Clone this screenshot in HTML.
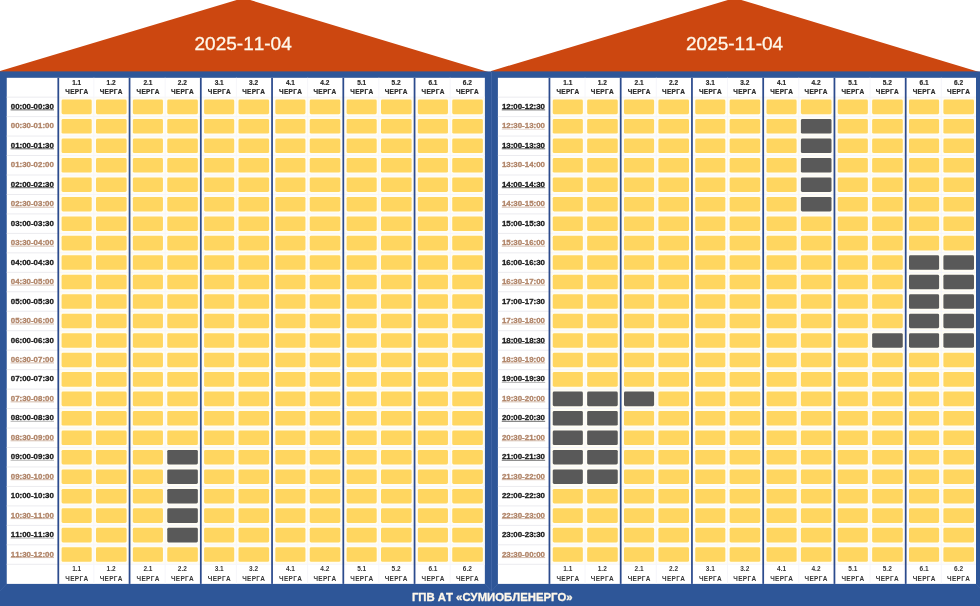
<!DOCTYPE html>
<html lang="uk">
<head>
<meta charset="utf-8">
<title>ГПВ АТ «СУМИОБЛЕНЕРГО»</title>
<style>
html,body{margin:0;padding:0;background:#fff;}
body{width:980px;height:606px;overflow:hidden;position:relative;font-family:"Liberation Sans",sans-serif;font-kerning:none;}
#g{position:absolute;left:0;top:0;width:980px;height:606px;display:block;}
#tx{position:absolute;left:0;top:0;width:980px;height:606px;will-change:transform;}
.t{position:absolute;white-space:nowrap;font-weight:bold;font-size:7.9px;line-height:10px;height:10px;letter-spacing:0;-webkit-text-stroke:0.3px currentColor;color:#1a1a1a;}
.t.o{color:#B08468;}
.h{position:absolute;white-space:nowrap;-webkit-text-stroke:0.2px currentColor;font-weight:bold;font-size:6.5px;line-height:9.4px;text-align:center;width:40px;color:#2b2b2b;}
.h.b{color:#383838;-webkit-text-stroke:0;}
.h i{display:block;font-style:normal;letter-spacing:0.3px;text-indent:0.3px;height:9.4px;line-height:9.4px;}
.h b{display:block;font-size:6.5px;height:9.4px;line-height:9.4px;position:relative;top:0.2px;}
.d{position:absolute;white-space:nowrap;-webkit-text-stroke:0.3px currentColor;font-size:19px;line-height:22px;height:22px;width:140px;text-align:center;color:#FFF8EA;}
.f{position:absolute;white-space:nowrap;-webkit-text-stroke:0.3px currentColor;font-weight:bold;font-size:11.35px;line-height:14px;height:14px;width:300px;text-align:center;color:#FFF8EA;}
</style>
</head>
<body>
<svg id="g" width="980" height="606" viewBox="0 0 980 606">
<polygon fill="#CC4710" points="0.00,71 243.50,-2.04 490.00,72.5 490.00,74 0.00,74"/>
<polygon fill="#CC4710" points="491.15,71 734.65,-2.04 981.15,72.5 981.15,74 491.15,74"/>
<rect fill="#2E5698" x="0.00" y="71.40" width="494.00" height="535.60"/>
<rect fill="#fff" x="6.75" y="77.80" width="478.10" height="506.10"/>
<rect fill="#FFFDF4" x="59.30" y="97.20" width="425.05" height="467.05"/>
<path d="M6.75 97.14H58.30M6.75 116.61H58.30M6.75 136.07H58.30M6.75 155.54H58.30M6.75 175.00H58.30M6.75 194.47H58.30M6.75 213.93H58.30M6.75 233.40H58.30M6.75 252.86H58.30M6.75 272.33H58.30M6.75 291.79H58.30M6.75 311.26H58.30M6.75 330.72H58.30M6.75 350.19H58.30M6.75 369.65H58.30M6.75 389.12H58.30M6.75 408.58H58.30M6.75 428.05H58.30M6.75 447.51H58.30M6.75 466.98H58.30M6.75 486.44H58.30M6.75 505.91H58.30M6.75 525.37H58.30M6.75 544.84H58.30M6.75 564.30H58.30" stroke="#EBEBEF" stroke-width="1" fill="none"/>
<path d="M58.30 97.14H484.85M58.30 116.61H484.85M58.30 136.07H484.85M58.30 155.54H484.85M58.30 175.00H484.85M58.30 194.47H484.85M58.30 213.93H484.85M58.30 233.40H484.85M58.30 252.86H484.85M58.30 272.33H484.85M58.30 291.79H484.85M58.30 311.26H484.85M58.30 330.72H484.85M58.30 350.19H484.85M58.30 369.65H484.85M58.30 389.12H484.85M58.30 408.58H484.85M58.30 428.05H484.85M58.30 447.51H484.85M58.30 466.98H484.85M58.30 486.44H484.85M58.30 505.91H484.85M58.30 525.37H484.85M58.30 544.84H484.85M58.30 564.30H484.85M93.90 77.80V583.90M165.15 77.80V583.90M236.40 77.80V583.90M307.65 77.80V583.90M378.90 77.80V583.90M450.15 77.80V583.90" stroke="#F6F6FA" stroke-width="1" fill="none"/>
<rect fill="#2C4B8D" x="57.42" y="77.80" width="1.75" height="506.10"/>
<rect fill="#2C4B8D" x="128.68" y="77.80" width="1.75" height="506.10"/>
<rect fill="#2C4B8D" x="199.93" y="77.80" width="1.75" height="506.10"/>
<rect fill="#2C4B8D" x="271.18" y="77.80" width="1.75" height="506.10"/>
<rect fill="#2C4B8D" x="342.43" y="77.80" width="1.75" height="506.10"/>
<rect fill="#2C4B8D" x="413.68" y="77.80" width="1.75" height="506.10"/>
<g fill="#FFD660">
<rect x="61.60" y="99.60" width="30.10" height="14.55" rx="1.4"/>
<rect x="96.00" y="99.60" width="30.60" height="14.55" rx="1.4"/>
<rect x="132.85" y="99.60" width="30.10" height="14.55" rx="1.4"/>
<rect x="167.25" y="99.60" width="30.60" height="14.55" rx="1.4"/>
<rect x="204.10" y="99.60" width="30.10" height="14.55" rx="1.4"/>
<rect x="238.50" y="99.60" width="30.60" height="14.55" rx="1.4"/>
<rect x="275.35" y="99.60" width="30.10" height="14.55" rx="1.4"/>
<rect x="309.75" y="99.60" width="30.60" height="14.55" rx="1.4"/>
<rect x="346.60" y="99.60" width="30.10" height="14.55" rx="1.4"/>
<rect x="381.00" y="99.60" width="30.60" height="14.55" rx="1.4"/>
<rect x="417.85" y="99.60" width="30.10" height="14.55" rx="1.4"/>
<rect x="452.25" y="99.60" width="30.60" height="14.55" rx="1.4"/>
<rect x="61.60" y="119.06" width="30.10" height="14.55" rx="1.4"/>
<rect x="96.00" y="119.06" width="30.60" height="14.55" rx="1.4"/>
<rect x="132.85" y="119.06" width="30.10" height="14.55" rx="1.4"/>
<rect x="167.25" y="119.06" width="30.60" height="14.55" rx="1.4"/>
<rect x="204.10" y="119.06" width="30.10" height="14.55" rx="1.4"/>
<rect x="238.50" y="119.06" width="30.60" height="14.55" rx="1.4"/>
<rect x="275.35" y="119.06" width="30.10" height="14.55" rx="1.4"/>
<rect x="309.75" y="119.06" width="30.60" height="14.55" rx="1.4"/>
<rect x="346.60" y="119.06" width="30.10" height="14.55" rx="1.4"/>
<rect x="381.00" y="119.06" width="30.60" height="14.55" rx="1.4"/>
<rect x="417.85" y="119.06" width="30.10" height="14.55" rx="1.4"/>
<rect x="452.25" y="119.06" width="30.60" height="14.55" rx="1.4"/>
<rect x="61.60" y="138.53" width="30.10" height="14.55" rx="1.4"/>
<rect x="96.00" y="138.53" width="30.60" height="14.55" rx="1.4"/>
<rect x="132.85" y="138.53" width="30.10" height="14.55" rx="1.4"/>
<rect x="167.25" y="138.53" width="30.60" height="14.55" rx="1.4"/>
<rect x="204.10" y="138.53" width="30.10" height="14.55" rx="1.4"/>
<rect x="238.50" y="138.53" width="30.60" height="14.55" rx="1.4"/>
<rect x="275.35" y="138.53" width="30.10" height="14.55" rx="1.4"/>
<rect x="309.75" y="138.53" width="30.60" height="14.55" rx="1.4"/>
<rect x="346.60" y="138.53" width="30.10" height="14.55" rx="1.4"/>
<rect x="381.00" y="138.53" width="30.60" height="14.55" rx="1.4"/>
<rect x="417.85" y="138.53" width="30.10" height="14.55" rx="1.4"/>
<rect x="452.25" y="138.53" width="30.60" height="14.55" rx="1.4"/>
<rect x="61.60" y="158.00" width="30.10" height="14.55" rx="1.4"/>
<rect x="96.00" y="158.00" width="30.60" height="14.55" rx="1.4"/>
<rect x="132.85" y="158.00" width="30.10" height="14.55" rx="1.4"/>
<rect x="167.25" y="158.00" width="30.60" height="14.55" rx="1.4"/>
<rect x="204.10" y="158.00" width="30.10" height="14.55" rx="1.4"/>
<rect x="238.50" y="158.00" width="30.60" height="14.55" rx="1.4"/>
<rect x="275.35" y="158.00" width="30.10" height="14.55" rx="1.4"/>
<rect x="309.75" y="158.00" width="30.60" height="14.55" rx="1.4"/>
<rect x="346.60" y="158.00" width="30.10" height="14.55" rx="1.4"/>
<rect x="381.00" y="158.00" width="30.60" height="14.55" rx="1.4"/>
<rect x="417.85" y="158.00" width="30.10" height="14.55" rx="1.4"/>
<rect x="452.25" y="158.00" width="30.60" height="14.55" rx="1.4"/>
<rect x="61.60" y="177.46" width="30.10" height="14.55" rx="1.4"/>
<rect x="96.00" y="177.46" width="30.60" height="14.55" rx="1.4"/>
<rect x="132.85" y="177.46" width="30.10" height="14.55" rx="1.4"/>
<rect x="167.25" y="177.46" width="30.60" height="14.55" rx="1.4"/>
<rect x="204.10" y="177.46" width="30.10" height="14.55" rx="1.4"/>
<rect x="238.50" y="177.46" width="30.60" height="14.55" rx="1.4"/>
<rect x="275.35" y="177.46" width="30.10" height="14.55" rx="1.4"/>
<rect x="309.75" y="177.46" width="30.60" height="14.55" rx="1.4"/>
<rect x="346.60" y="177.46" width="30.10" height="14.55" rx="1.4"/>
<rect x="381.00" y="177.46" width="30.60" height="14.55" rx="1.4"/>
<rect x="417.85" y="177.46" width="30.10" height="14.55" rx="1.4"/>
<rect x="452.25" y="177.46" width="30.60" height="14.55" rx="1.4"/>
<rect x="61.60" y="196.93" width="30.10" height="14.55" rx="1.4"/>
<rect x="96.00" y="196.93" width="30.60" height="14.55" rx="1.4"/>
<rect x="132.85" y="196.93" width="30.10" height="14.55" rx="1.4"/>
<rect x="167.25" y="196.93" width="30.60" height="14.55" rx="1.4"/>
<rect x="204.10" y="196.93" width="30.10" height="14.55" rx="1.4"/>
<rect x="238.50" y="196.93" width="30.60" height="14.55" rx="1.4"/>
<rect x="275.35" y="196.93" width="30.10" height="14.55" rx="1.4"/>
<rect x="309.75" y="196.93" width="30.60" height="14.55" rx="1.4"/>
<rect x="346.60" y="196.93" width="30.10" height="14.55" rx="1.4"/>
<rect x="381.00" y="196.93" width="30.60" height="14.55" rx="1.4"/>
<rect x="417.85" y="196.93" width="30.10" height="14.55" rx="1.4"/>
<rect x="452.25" y="196.93" width="30.60" height="14.55" rx="1.4"/>
<rect x="61.60" y="216.39" width="30.10" height="14.55" rx="1.4"/>
<rect x="96.00" y="216.39" width="30.60" height="14.55" rx="1.4"/>
<rect x="132.85" y="216.39" width="30.10" height="14.55" rx="1.4"/>
<rect x="167.25" y="216.39" width="30.60" height="14.55" rx="1.4"/>
<rect x="204.10" y="216.39" width="30.10" height="14.55" rx="1.4"/>
<rect x="238.50" y="216.39" width="30.60" height="14.55" rx="1.4"/>
<rect x="275.35" y="216.39" width="30.10" height="14.55" rx="1.4"/>
<rect x="309.75" y="216.39" width="30.60" height="14.55" rx="1.4"/>
<rect x="346.60" y="216.39" width="30.10" height="14.55" rx="1.4"/>
<rect x="381.00" y="216.39" width="30.60" height="14.55" rx="1.4"/>
<rect x="417.85" y="216.39" width="30.10" height="14.55" rx="1.4"/>
<rect x="452.25" y="216.39" width="30.60" height="14.55" rx="1.4"/>
<rect x="61.60" y="235.85" width="30.10" height="14.55" rx="1.4"/>
<rect x="96.00" y="235.85" width="30.60" height="14.55" rx="1.4"/>
<rect x="132.85" y="235.85" width="30.10" height="14.55" rx="1.4"/>
<rect x="167.25" y="235.85" width="30.60" height="14.55" rx="1.4"/>
<rect x="204.10" y="235.85" width="30.10" height="14.55" rx="1.4"/>
<rect x="238.50" y="235.85" width="30.60" height="14.55" rx="1.4"/>
<rect x="275.35" y="235.85" width="30.10" height="14.55" rx="1.4"/>
<rect x="309.75" y="235.85" width="30.60" height="14.55" rx="1.4"/>
<rect x="346.60" y="235.85" width="30.10" height="14.55" rx="1.4"/>
<rect x="381.00" y="235.85" width="30.60" height="14.55" rx="1.4"/>
<rect x="417.85" y="235.85" width="30.10" height="14.55" rx="1.4"/>
<rect x="452.25" y="235.85" width="30.60" height="14.55" rx="1.4"/>
<rect x="61.60" y="255.32" width="30.10" height="14.55" rx="1.4"/>
<rect x="96.00" y="255.32" width="30.60" height="14.55" rx="1.4"/>
<rect x="132.85" y="255.32" width="30.10" height="14.55" rx="1.4"/>
<rect x="167.25" y="255.32" width="30.60" height="14.55" rx="1.4"/>
<rect x="204.10" y="255.32" width="30.10" height="14.55" rx="1.4"/>
<rect x="238.50" y="255.32" width="30.60" height="14.55" rx="1.4"/>
<rect x="275.35" y="255.32" width="30.10" height="14.55" rx="1.4"/>
<rect x="309.75" y="255.32" width="30.60" height="14.55" rx="1.4"/>
<rect x="346.60" y="255.32" width="30.10" height="14.55" rx="1.4"/>
<rect x="381.00" y="255.32" width="30.60" height="14.55" rx="1.4"/>
<rect x="417.85" y="255.32" width="30.10" height="14.55" rx="1.4"/>
<rect x="452.25" y="255.32" width="30.60" height="14.55" rx="1.4"/>
<rect x="61.60" y="274.78" width="30.10" height="14.55" rx="1.4"/>
<rect x="96.00" y="274.78" width="30.60" height="14.55" rx="1.4"/>
<rect x="132.85" y="274.78" width="30.10" height="14.55" rx="1.4"/>
<rect x="167.25" y="274.78" width="30.60" height="14.55" rx="1.4"/>
<rect x="204.10" y="274.78" width="30.10" height="14.55" rx="1.4"/>
<rect x="238.50" y="274.78" width="30.60" height="14.55" rx="1.4"/>
<rect x="275.35" y="274.78" width="30.10" height="14.55" rx="1.4"/>
<rect x="309.75" y="274.78" width="30.60" height="14.55" rx="1.4"/>
<rect x="346.60" y="274.78" width="30.10" height="14.55" rx="1.4"/>
<rect x="381.00" y="274.78" width="30.60" height="14.55" rx="1.4"/>
<rect x="417.85" y="274.78" width="30.10" height="14.55" rx="1.4"/>
<rect x="452.25" y="274.78" width="30.60" height="14.55" rx="1.4"/>
<rect x="61.60" y="294.25" width="30.10" height="14.55" rx="1.4"/>
<rect x="96.00" y="294.25" width="30.60" height="14.55" rx="1.4"/>
<rect x="132.85" y="294.25" width="30.10" height="14.55" rx="1.4"/>
<rect x="167.25" y="294.25" width="30.60" height="14.55" rx="1.4"/>
<rect x="204.10" y="294.25" width="30.10" height="14.55" rx="1.4"/>
<rect x="238.50" y="294.25" width="30.60" height="14.55" rx="1.4"/>
<rect x="275.35" y="294.25" width="30.10" height="14.55" rx="1.4"/>
<rect x="309.75" y="294.25" width="30.60" height="14.55" rx="1.4"/>
<rect x="346.60" y="294.25" width="30.10" height="14.55" rx="1.4"/>
<rect x="381.00" y="294.25" width="30.60" height="14.55" rx="1.4"/>
<rect x="417.85" y="294.25" width="30.10" height="14.55" rx="1.4"/>
<rect x="452.25" y="294.25" width="30.60" height="14.55" rx="1.4"/>
<rect x="61.60" y="313.72" width="30.10" height="14.55" rx="1.4"/>
<rect x="96.00" y="313.72" width="30.60" height="14.55" rx="1.4"/>
<rect x="132.85" y="313.72" width="30.10" height="14.55" rx="1.4"/>
<rect x="167.25" y="313.72" width="30.60" height="14.55" rx="1.4"/>
<rect x="204.10" y="313.72" width="30.10" height="14.55" rx="1.4"/>
<rect x="238.50" y="313.72" width="30.60" height="14.55" rx="1.4"/>
<rect x="275.35" y="313.72" width="30.10" height="14.55" rx="1.4"/>
<rect x="309.75" y="313.72" width="30.60" height="14.55" rx="1.4"/>
<rect x="346.60" y="313.72" width="30.10" height="14.55" rx="1.4"/>
<rect x="381.00" y="313.72" width="30.60" height="14.55" rx="1.4"/>
<rect x="417.85" y="313.72" width="30.10" height="14.55" rx="1.4"/>
<rect x="452.25" y="313.72" width="30.60" height="14.55" rx="1.4"/>
<rect x="61.60" y="333.18" width="30.10" height="14.55" rx="1.4"/>
<rect x="96.00" y="333.18" width="30.60" height="14.55" rx="1.4"/>
<rect x="132.85" y="333.18" width="30.10" height="14.55" rx="1.4"/>
<rect x="167.25" y="333.18" width="30.60" height="14.55" rx="1.4"/>
<rect x="204.10" y="333.18" width="30.10" height="14.55" rx="1.4"/>
<rect x="238.50" y="333.18" width="30.60" height="14.55" rx="1.4"/>
<rect x="275.35" y="333.18" width="30.10" height="14.55" rx="1.4"/>
<rect x="309.75" y="333.18" width="30.60" height="14.55" rx="1.4"/>
<rect x="346.60" y="333.18" width="30.10" height="14.55" rx="1.4"/>
<rect x="381.00" y="333.18" width="30.60" height="14.55" rx="1.4"/>
<rect x="417.85" y="333.18" width="30.10" height="14.55" rx="1.4"/>
<rect x="452.25" y="333.18" width="30.60" height="14.55" rx="1.4"/>
<rect x="61.60" y="352.64" width="30.10" height="14.55" rx="1.4"/>
<rect x="96.00" y="352.64" width="30.60" height="14.55" rx="1.4"/>
<rect x="132.85" y="352.64" width="30.10" height="14.55" rx="1.4"/>
<rect x="167.25" y="352.64" width="30.60" height="14.55" rx="1.4"/>
<rect x="204.10" y="352.64" width="30.10" height="14.55" rx="1.4"/>
<rect x="238.50" y="352.64" width="30.60" height="14.55" rx="1.4"/>
<rect x="275.35" y="352.64" width="30.10" height="14.55" rx="1.4"/>
<rect x="309.75" y="352.64" width="30.60" height="14.55" rx="1.4"/>
<rect x="346.60" y="352.64" width="30.10" height="14.55" rx="1.4"/>
<rect x="381.00" y="352.64" width="30.60" height="14.55" rx="1.4"/>
<rect x="417.85" y="352.64" width="30.10" height="14.55" rx="1.4"/>
<rect x="452.25" y="352.64" width="30.60" height="14.55" rx="1.4"/>
<rect x="61.60" y="372.11" width="30.10" height="14.55" rx="1.4"/>
<rect x="96.00" y="372.11" width="30.60" height="14.55" rx="1.4"/>
<rect x="132.85" y="372.11" width="30.10" height="14.55" rx="1.4"/>
<rect x="167.25" y="372.11" width="30.60" height="14.55" rx="1.4"/>
<rect x="204.10" y="372.11" width="30.10" height="14.55" rx="1.4"/>
<rect x="238.50" y="372.11" width="30.60" height="14.55" rx="1.4"/>
<rect x="275.35" y="372.11" width="30.10" height="14.55" rx="1.4"/>
<rect x="309.75" y="372.11" width="30.60" height="14.55" rx="1.4"/>
<rect x="346.60" y="372.11" width="30.10" height="14.55" rx="1.4"/>
<rect x="381.00" y="372.11" width="30.60" height="14.55" rx="1.4"/>
<rect x="417.85" y="372.11" width="30.10" height="14.55" rx="1.4"/>
<rect x="452.25" y="372.11" width="30.60" height="14.55" rx="1.4"/>
<rect x="61.60" y="391.58" width="30.10" height="14.55" rx="1.4"/>
<rect x="96.00" y="391.58" width="30.60" height="14.55" rx="1.4"/>
<rect x="132.85" y="391.58" width="30.10" height="14.55" rx="1.4"/>
<rect x="167.25" y="391.58" width="30.60" height="14.55" rx="1.4"/>
<rect x="204.10" y="391.58" width="30.10" height="14.55" rx="1.4"/>
<rect x="238.50" y="391.58" width="30.60" height="14.55" rx="1.4"/>
<rect x="275.35" y="391.58" width="30.10" height="14.55" rx="1.4"/>
<rect x="309.75" y="391.58" width="30.60" height="14.55" rx="1.4"/>
<rect x="346.60" y="391.58" width="30.10" height="14.55" rx="1.4"/>
<rect x="381.00" y="391.58" width="30.60" height="14.55" rx="1.4"/>
<rect x="417.85" y="391.58" width="30.10" height="14.55" rx="1.4"/>
<rect x="452.25" y="391.58" width="30.60" height="14.55" rx="1.4"/>
<rect x="61.60" y="411.04" width="30.10" height="14.55" rx="1.4"/>
<rect x="96.00" y="411.04" width="30.60" height="14.55" rx="1.4"/>
<rect x="132.85" y="411.04" width="30.10" height="14.55" rx="1.4"/>
<rect x="167.25" y="411.04" width="30.60" height="14.55" rx="1.4"/>
<rect x="204.10" y="411.04" width="30.10" height="14.55" rx="1.4"/>
<rect x="238.50" y="411.04" width="30.60" height="14.55" rx="1.4"/>
<rect x="275.35" y="411.04" width="30.10" height="14.55" rx="1.4"/>
<rect x="309.75" y="411.04" width="30.60" height="14.55" rx="1.4"/>
<rect x="346.60" y="411.04" width="30.10" height="14.55" rx="1.4"/>
<rect x="381.00" y="411.04" width="30.60" height="14.55" rx="1.4"/>
<rect x="417.85" y="411.04" width="30.10" height="14.55" rx="1.4"/>
<rect x="452.25" y="411.04" width="30.60" height="14.55" rx="1.4"/>
<rect x="61.60" y="430.50" width="30.10" height="14.55" rx="1.4"/>
<rect x="96.00" y="430.50" width="30.60" height="14.55" rx="1.4"/>
<rect x="132.85" y="430.50" width="30.10" height="14.55" rx="1.4"/>
<rect x="167.25" y="430.50" width="30.60" height="14.55" rx="1.4"/>
<rect x="204.10" y="430.50" width="30.10" height="14.55" rx="1.4"/>
<rect x="238.50" y="430.50" width="30.60" height="14.55" rx="1.4"/>
<rect x="275.35" y="430.50" width="30.10" height="14.55" rx="1.4"/>
<rect x="309.75" y="430.50" width="30.60" height="14.55" rx="1.4"/>
<rect x="346.60" y="430.50" width="30.10" height="14.55" rx="1.4"/>
<rect x="381.00" y="430.50" width="30.60" height="14.55" rx="1.4"/>
<rect x="417.85" y="430.50" width="30.10" height="14.55" rx="1.4"/>
<rect x="452.25" y="430.50" width="30.60" height="14.55" rx="1.4"/>
<rect x="61.60" y="449.97" width="30.10" height="14.55" rx="1.4"/>
<rect x="96.00" y="449.97" width="30.60" height="14.55" rx="1.4"/>
<rect x="132.85" y="449.97" width="30.10" height="14.55" rx="1.4"/>
<rect x="204.10" y="449.97" width="30.10" height="14.55" rx="1.4"/>
<rect x="238.50" y="449.97" width="30.60" height="14.55" rx="1.4"/>
<rect x="275.35" y="449.97" width="30.10" height="14.55" rx="1.4"/>
<rect x="309.75" y="449.97" width="30.60" height="14.55" rx="1.4"/>
<rect x="346.60" y="449.97" width="30.10" height="14.55" rx="1.4"/>
<rect x="381.00" y="449.97" width="30.60" height="14.55" rx="1.4"/>
<rect x="417.85" y="449.97" width="30.10" height="14.55" rx="1.4"/>
<rect x="452.25" y="449.97" width="30.60" height="14.55" rx="1.4"/>
<rect x="61.60" y="469.43" width="30.10" height="14.55" rx="1.4"/>
<rect x="96.00" y="469.43" width="30.60" height="14.55" rx="1.4"/>
<rect x="132.85" y="469.43" width="30.10" height="14.55" rx="1.4"/>
<rect x="204.10" y="469.43" width="30.10" height="14.55" rx="1.4"/>
<rect x="238.50" y="469.43" width="30.60" height="14.55" rx="1.4"/>
<rect x="275.35" y="469.43" width="30.10" height="14.55" rx="1.4"/>
<rect x="309.75" y="469.43" width="30.60" height="14.55" rx="1.4"/>
<rect x="346.60" y="469.43" width="30.10" height="14.55" rx="1.4"/>
<rect x="381.00" y="469.43" width="30.60" height="14.55" rx="1.4"/>
<rect x="417.85" y="469.43" width="30.10" height="14.55" rx="1.4"/>
<rect x="452.25" y="469.43" width="30.60" height="14.55" rx="1.4"/>
<rect x="61.60" y="488.90" width="30.10" height="14.55" rx="1.4"/>
<rect x="96.00" y="488.90" width="30.60" height="14.55" rx="1.4"/>
<rect x="132.85" y="488.90" width="30.10" height="14.55" rx="1.4"/>
<rect x="204.10" y="488.90" width="30.10" height="14.55" rx="1.4"/>
<rect x="238.50" y="488.90" width="30.60" height="14.55" rx="1.4"/>
<rect x="275.35" y="488.90" width="30.10" height="14.55" rx="1.4"/>
<rect x="309.75" y="488.90" width="30.60" height="14.55" rx="1.4"/>
<rect x="346.60" y="488.90" width="30.10" height="14.55" rx="1.4"/>
<rect x="381.00" y="488.90" width="30.60" height="14.55" rx="1.4"/>
<rect x="417.85" y="488.90" width="30.10" height="14.55" rx="1.4"/>
<rect x="452.25" y="488.90" width="30.60" height="14.55" rx="1.4"/>
<rect x="61.60" y="508.37" width="30.10" height="14.55" rx="1.4"/>
<rect x="96.00" y="508.37" width="30.60" height="14.55" rx="1.4"/>
<rect x="132.85" y="508.37" width="30.10" height="14.55" rx="1.4"/>
<rect x="204.10" y="508.37" width="30.10" height="14.55" rx="1.4"/>
<rect x="238.50" y="508.37" width="30.60" height="14.55" rx="1.4"/>
<rect x="275.35" y="508.37" width="30.10" height="14.55" rx="1.4"/>
<rect x="309.75" y="508.37" width="30.60" height="14.55" rx="1.4"/>
<rect x="346.60" y="508.37" width="30.10" height="14.55" rx="1.4"/>
<rect x="381.00" y="508.37" width="30.60" height="14.55" rx="1.4"/>
<rect x="417.85" y="508.37" width="30.10" height="14.55" rx="1.4"/>
<rect x="452.25" y="508.37" width="30.60" height="14.55" rx="1.4"/>
<rect x="61.60" y="527.83" width="30.10" height="14.55" rx="1.4"/>
<rect x="96.00" y="527.83" width="30.60" height="14.55" rx="1.4"/>
<rect x="132.85" y="527.83" width="30.10" height="14.55" rx="1.4"/>
<rect x="204.10" y="527.83" width="30.10" height="14.55" rx="1.4"/>
<rect x="238.50" y="527.83" width="30.60" height="14.55" rx="1.4"/>
<rect x="275.35" y="527.83" width="30.10" height="14.55" rx="1.4"/>
<rect x="309.75" y="527.83" width="30.60" height="14.55" rx="1.4"/>
<rect x="346.60" y="527.83" width="30.10" height="14.55" rx="1.4"/>
<rect x="381.00" y="527.83" width="30.60" height="14.55" rx="1.4"/>
<rect x="417.85" y="527.83" width="30.10" height="14.55" rx="1.4"/>
<rect x="452.25" y="527.83" width="30.60" height="14.55" rx="1.4"/>
<rect x="61.60" y="547.29" width="30.10" height="14.55" rx="1.4"/>
<rect x="96.00" y="547.29" width="30.60" height="14.55" rx="1.4"/>
<rect x="132.85" y="547.29" width="30.10" height="14.55" rx="1.4"/>
<rect x="167.25" y="547.29" width="30.60" height="14.55" rx="1.4"/>
<rect x="204.10" y="547.29" width="30.10" height="14.55" rx="1.4"/>
<rect x="238.50" y="547.29" width="30.60" height="14.55" rx="1.4"/>
<rect x="275.35" y="547.29" width="30.10" height="14.55" rx="1.4"/>
<rect x="309.75" y="547.29" width="30.60" height="14.55" rx="1.4"/>
<rect x="346.60" y="547.29" width="30.10" height="14.55" rx="1.4"/>
<rect x="381.00" y="547.29" width="30.60" height="14.55" rx="1.4"/>
<rect x="417.85" y="547.29" width="30.10" height="14.55" rx="1.4"/>
<rect x="452.25" y="547.29" width="30.60" height="14.55" rx="1.4"/>
</g>
<g fill="#595959">
<rect x="167.25" y="449.97" width="30.60" height="14.55" rx="1.4"/>
<rect x="167.25" y="469.43" width="30.60" height="14.55" rx="1.4"/>
<rect x="167.25" y="488.90" width="30.60" height="14.55" rx="1.4"/>
<rect x="167.25" y="508.37" width="30.60" height="14.55" rx="1.4"/>
<rect x="167.25" y="527.83" width="30.60" height="14.55" rx="1.4"/>
</g>
<rect fill="#2E5698" x="491.15" y="71.40" width="494.00" height="535.60"/>
<rect fill="#fff" x="497.90" y="77.80" width="478.10" height="506.10"/>
<rect fill="#FFFDF4" x="550.45" y="97.20" width="425.05" height="467.05"/>
<path d="M497.90 97.14H549.45M497.90 116.61H549.45M497.90 136.07H549.45M497.90 155.54H549.45M497.90 175.00H549.45M497.90 194.47H549.45M497.90 213.93H549.45M497.90 233.40H549.45M497.90 252.86H549.45M497.90 272.33H549.45M497.90 291.79H549.45M497.90 311.26H549.45M497.90 330.72H549.45M497.90 350.19H549.45M497.90 369.65H549.45M497.90 389.12H549.45M497.90 408.58H549.45M497.90 428.05H549.45M497.90 447.51H549.45M497.90 466.98H549.45M497.90 486.44H549.45M497.90 505.91H549.45M497.90 525.37H549.45M497.90 544.84H549.45M497.90 564.30H549.45" stroke="#EBEBEF" stroke-width="1" fill="none"/>
<path d="M549.45 97.14H976.00M549.45 116.61H976.00M549.45 136.07H976.00M549.45 155.54H976.00M549.45 175.00H976.00M549.45 194.47H976.00M549.45 213.93H976.00M549.45 233.40H976.00M549.45 252.86H976.00M549.45 272.33H976.00M549.45 291.79H976.00M549.45 311.26H976.00M549.45 330.72H976.00M549.45 350.19H976.00M549.45 369.65H976.00M549.45 389.12H976.00M549.45 408.58H976.00M549.45 428.05H976.00M549.45 447.51H976.00M549.45 466.98H976.00M549.45 486.44H976.00M549.45 505.91H976.00M549.45 525.37H976.00M549.45 544.84H976.00M549.45 564.30H976.00M585.05 77.80V583.90M656.30 77.80V583.90M727.55 77.80V583.90M798.80 77.80V583.90M870.05 77.80V583.90M941.30 77.80V583.90" stroke="#F6F6FA" stroke-width="1" fill="none"/>
<rect fill="#2C4B8D" x="548.57" y="77.80" width="1.75" height="506.10"/>
<rect fill="#2C4B8D" x="619.82" y="77.80" width="1.75" height="506.10"/>
<rect fill="#2C4B8D" x="691.07" y="77.80" width="1.75" height="506.10"/>
<rect fill="#2C4B8D" x="762.32" y="77.80" width="1.75" height="506.10"/>
<rect fill="#2C4B8D" x="833.57" y="77.80" width="1.75" height="506.10"/>
<rect fill="#2C4B8D" x="904.82" y="77.80" width="1.75" height="506.10"/>
<g fill="#FFD660">
<rect x="552.75" y="99.60" width="30.10" height="14.55" rx="1.4"/>
<rect x="587.15" y="99.60" width="30.60" height="14.55" rx="1.4"/>
<rect x="624.00" y="99.60" width="30.10" height="14.55" rx="1.4"/>
<rect x="658.40" y="99.60" width="30.60" height="14.55" rx="1.4"/>
<rect x="695.25" y="99.60" width="30.10" height="14.55" rx="1.4"/>
<rect x="729.65" y="99.60" width="30.60" height="14.55" rx="1.4"/>
<rect x="766.50" y="99.60" width="30.10" height="14.55" rx="1.4"/>
<rect x="800.90" y="99.60" width="30.60" height="14.55" rx="1.4"/>
<rect x="837.75" y="99.60" width="30.10" height="14.55" rx="1.4"/>
<rect x="872.15" y="99.60" width="30.60" height="14.55" rx="1.4"/>
<rect x="909.00" y="99.60" width="30.10" height="14.55" rx="1.4"/>
<rect x="943.40" y="99.60" width="30.60" height="14.55" rx="1.4"/>
<rect x="552.75" y="119.06" width="30.10" height="14.55" rx="1.4"/>
<rect x="587.15" y="119.06" width="30.60" height="14.55" rx="1.4"/>
<rect x="624.00" y="119.06" width="30.10" height="14.55" rx="1.4"/>
<rect x="658.40" y="119.06" width="30.60" height="14.55" rx="1.4"/>
<rect x="695.25" y="119.06" width="30.10" height="14.55" rx="1.4"/>
<rect x="729.65" y="119.06" width="30.60" height="14.55" rx="1.4"/>
<rect x="766.50" y="119.06" width="30.10" height="14.55" rx="1.4"/>
<rect x="837.75" y="119.06" width="30.10" height="14.55" rx="1.4"/>
<rect x="872.15" y="119.06" width="30.60" height="14.55" rx="1.4"/>
<rect x="909.00" y="119.06" width="30.10" height="14.55" rx="1.4"/>
<rect x="943.40" y="119.06" width="30.60" height="14.55" rx="1.4"/>
<rect x="552.75" y="138.53" width="30.10" height="14.55" rx="1.4"/>
<rect x="587.15" y="138.53" width="30.60" height="14.55" rx="1.4"/>
<rect x="624.00" y="138.53" width="30.10" height="14.55" rx="1.4"/>
<rect x="658.40" y="138.53" width="30.60" height="14.55" rx="1.4"/>
<rect x="695.25" y="138.53" width="30.10" height="14.55" rx="1.4"/>
<rect x="729.65" y="138.53" width="30.60" height="14.55" rx="1.4"/>
<rect x="766.50" y="138.53" width="30.10" height="14.55" rx="1.4"/>
<rect x="837.75" y="138.53" width="30.10" height="14.55" rx="1.4"/>
<rect x="872.15" y="138.53" width="30.60" height="14.55" rx="1.4"/>
<rect x="909.00" y="138.53" width="30.10" height="14.55" rx="1.4"/>
<rect x="943.40" y="138.53" width="30.60" height="14.55" rx="1.4"/>
<rect x="552.75" y="158.00" width="30.10" height="14.55" rx="1.4"/>
<rect x="587.15" y="158.00" width="30.60" height="14.55" rx="1.4"/>
<rect x="624.00" y="158.00" width="30.10" height="14.55" rx="1.4"/>
<rect x="658.40" y="158.00" width="30.60" height="14.55" rx="1.4"/>
<rect x="695.25" y="158.00" width="30.10" height="14.55" rx="1.4"/>
<rect x="729.65" y="158.00" width="30.60" height="14.55" rx="1.4"/>
<rect x="766.50" y="158.00" width="30.10" height="14.55" rx="1.4"/>
<rect x="837.75" y="158.00" width="30.10" height="14.55" rx="1.4"/>
<rect x="872.15" y="158.00" width="30.60" height="14.55" rx="1.4"/>
<rect x="909.00" y="158.00" width="30.10" height="14.55" rx="1.4"/>
<rect x="943.40" y="158.00" width="30.60" height="14.55" rx="1.4"/>
<rect x="552.75" y="177.46" width="30.10" height="14.55" rx="1.4"/>
<rect x="587.15" y="177.46" width="30.60" height="14.55" rx="1.4"/>
<rect x="624.00" y="177.46" width="30.10" height="14.55" rx="1.4"/>
<rect x="658.40" y="177.46" width="30.60" height="14.55" rx="1.4"/>
<rect x="695.25" y="177.46" width="30.10" height="14.55" rx="1.4"/>
<rect x="729.65" y="177.46" width="30.60" height="14.55" rx="1.4"/>
<rect x="766.50" y="177.46" width="30.10" height="14.55" rx="1.4"/>
<rect x="837.75" y="177.46" width="30.10" height="14.55" rx="1.4"/>
<rect x="872.15" y="177.46" width="30.60" height="14.55" rx="1.4"/>
<rect x="909.00" y="177.46" width="30.10" height="14.55" rx="1.4"/>
<rect x="943.40" y="177.46" width="30.60" height="14.55" rx="1.4"/>
<rect x="552.75" y="196.93" width="30.10" height="14.55" rx="1.4"/>
<rect x="587.15" y="196.93" width="30.60" height="14.55" rx="1.4"/>
<rect x="624.00" y="196.93" width="30.10" height="14.55" rx="1.4"/>
<rect x="658.40" y="196.93" width="30.60" height="14.55" rx="1.4"/>
<rect x="695.25" y="196.93" width="30.10" height="14.55" rx="1.4"/>
<rect x="729.65" y="196.93" width="30.60" height="14.55" rx="1.4"/>
<rect x="766.50" y="196.93" width="30.10" height="14.55" rx="1.4"/>
<rect x="837.75" y="196.93" width="30.10" height="14.55" rx="1.4"/>
<rect x="872.15" y="196.93" width="30.60" height="14.55" rx="1.4"/>
<rect x="909.00" y="196.93" width="30.10" height="14.55" rx="1.4"/>
<rect x="943.40" y="196.93" width="30.60" height="14.55" rx="1.4"/>
<rect x="552.75" y="216.39" width="30.10" height="14.55" rx="1.4"/>
<rect x="587.15" y="216.39" width="30.60" height="14.55" rx="1.4"/>
<rect x="624.00" y="216.39" width="30.10" height="14.55" rx="1.4"/>
<rect x="658.40" y="216.39" width="30.60" height="14.55" rx="1.4"/>
<rect x="695.25" y="216.39" width="30.10" height="14.55" rx="1.4"/>
<rect x="729.65" y="216.39" width="30.60" height="14.55" rx="1.4"/>
<rect x="766.50" y="216.39" width="30.10" height="14.55" rx="1.4"/>
<rect x="800.90" y="216.39" width="30.60" height="14.55" rx="1.4"/>
<rect x="837.75" y="216.39" width="30.10" height="14.55" rx="1.4"/>
<rect x="872.15" y="216.39" width="30.60" height="14.55" rx="1.4"/>
<rect x="909.00" y="216.39" width="30.10" height="14.55" rx="1.4"/>
<rect x="943.40" y="216.39" width="30.60" height="14.55" rx="1.4"/>
<rect x="552.75" y="235.85" width="30.10" height="14.55" rx="1.4"/>
<rect x="587.15" y="235.85" width="30.60" height="14.55" rx="1.4"/>
<rect x="624.00" y="235.85" width="30.10" height="14.55" rx="1.4"/>
<rect x="658.40" y="235.85" width="30.60" height="14.55" rx="1.4"/>
<rect x="695.25" y="235.85" width="30.10" height="14.55" rx="1.4"/>
<rect x="729.65" y="235.85" width="30.60" height="14.55" rx="1.4"/>
<rect x="766.50" y="235.85" width="30.10" height="14.55" rx="1.4"/>
<rect x="800.90" y="235.85" width="30.60" height="14.55" rx="1.4"/>
<rect x="837.75" y="235.85" width="30.10" height="14.55" rx="1.4"/>
<rect x="872.15" y="235.85" width="30.60" height="14.55" rx="1.4"/>
<rect x="909.00" y="235.85" width="30.10" height="14.55" rx="1.4"/>
<rect x="943.40" y="235.85" width="30.60" height="14.55" rx="1.4"/>
<rect x="552.75" y="255.32" width="30.10" height="14.55" rx="1.4"/>
<rect x="587.15" y="255.32" width="30.60" height="14.55" rx="1.4"/>
<rect x="624.00" y="255.32" width="30.10" height="14.55" rx="1.4"/>
<rect x="658.40" y="255.32" width="30.60" height="14.55" rx="1.4"/>
<rect x="695.25" y="255.32" width="30.10" height="14.55" rx="1.4"/>
<rect x="729.65" y="255.32" width="30.60" height="14.55" rx="1.4"/>
<rect x="766.50" y="255.32" width="30.10" height="14.55" rx="1.4"/>
<rect x="800.90" y="255.32" width="30.60" height="14.55" rx="1.4"/>
<rect x="837.75" y="255.32" width="30.10" height="14.55" rx="1.4"/>
<rect x="872.15" y="255.32" width="30.60" height="14.55" rx="1.4"/>
<rect x="552.75" y="274.78" width="30.10" height="14.55" rx="1.4"/>
<rect x="587.15" y="274.78" width="30.60" height="14.55" rx="1.4"/>
<rect x="624.00" y="274.78" width="30.10" height="14.55" rx="1.4"/>
<rect x="658.40" y="274.78" width="30.60" height="14.55" rx="1.4"/>
<rect x="695.25" y="274.78" width="30.10" height="14.55" rx="1.4"/>
<rect x="729.65" y="274.78" width="30.60" height="14.55" rx="1.4"/>
<rect x="766.50" y="274.78" width="30.10" height="14.55" rx="1.4"/>
<rect x="800.90" y="274.78" width="30.60" height="14.55" rx="1.4"/>
<rect x="837.75" y="274.78" width="30.10" height="14.55" rx="1.4"/>
<rect x="872.15" y="274.78" width="30.60" height="14.55" rx="1.4"/>
<rect x="552.75" y="294.25" width="30.10" height="14.55" rx="1.4"/>
<rect x="587.15" y="294.25" width="30.60" height="14.55" rx="1.4"/>
<rect x="624.00" y="294.25" width="30.10" height="14.55" rx="1.4"/>
<rect x="658.40" y="294.25" width="30.60" height="14.55" rx="1.4"/>
<rect x="695.25" y="294.25" width="30.10" height="14.55" rx="1.4"/>
<rect x="729.65" y="294.25" width="30.60" height="14.55" rx="1.4"/>
<rect x="766.50" y="294.25" width="30.10" height="14.55" rx="1.4"/>
<rect x="800.90" y="294.25" width="30.60" height="14.55" rx="1.4"/>
<rect x="837.75" y="294.25" width="30.10" height="14.55" rx="1.4"/>
<rect x="872.15" y="294.25" width="30.60" height="14.55" rx="1.4"/>
<rect x="552.75" y="313.72" width="30.10" height="14.55" rx="1.4"/>
<rect x="587.15" y="313.72" width="30.60" height="14.55" rx="1.4"/>
<rect x="624.00" y="313.72" width="30.10" height="14.55" rx="1.4"/>
<rect x="658.40" y="313.72" width="30.60" height="14.55" rx="1.4"/>
<rect x="695.25" y="313.72" width="30.10" height="14.55" rx="1.4"/>
<rect x="729.65" y="313.72" width="30.60" height="14.55" rx="1.4"/>
<rect x="766.50" y="313.72" width="30.10" height="14.55" rx="1.4"/>
<rect x="800.90" y="313.72" width="30.60" height="14.55" rx="1.4"/>
<rect x="837.75" y="313.72" width="30.10" height="14.55" rx="1.4"/>
<rect x="872.15" y="313.72" width="30.60" height="14.55" rx="1.4"/>
<rect x="552.75" y="333.18" width="30.10" height="14.55" rx="1.4"/>
<rect x="587.15" y="333.18" width="30.60" height="14.55" rx="1.4"/>
<rect x="624.00" y="333.18" width="30.10" height="14.55" rx="1.4"/>
<rect x="658.40" y="333.18" width="30.60" height="14.55" rx="1.4"/>
<rect x="695.25" y="333.18" width="30.10" height="14.55" rx="1.4"/>
<rect x="729.65" y="333.18" width="30.60" height="14.55" rx="1.4"/>
<rect x="766.50" y="333.18" width="30.10" height="14.55" rx="1.4"/>
<rect x="800.90" y="333.18" width="30.60" height="14.55" rx="1.4"/>
<rect x="837.75" y="333.18" width="30.10" height="14.55" rx="1.4"/>
<rect x="552.75" y="352.64" width="30.10" height="14.55" rx="1.4"/>
<rect x="587.15" y="352.64" width="30.60" height="14.55" rx="1.4"/>
<rect x="624.00" y="352.64" width="30.10" height="14.55" rx="1.4"/>
<rect x="658.40" y="352.64" width="30.60" height="14.55" rx="1.4"/>
<rect x="695.25" y="352.64" width="30.10" height="14.55" rx="1.4"/>
<rect x="729.65" y="352.64" width="30.60" height="14.55" rx="1.4"/>
<rect x="766.50" y="352.64" width="30.10" height="14.55" rx="1.4"/>
<rect x="800.90" y="352.64" width="30.60" height="14.55" rx="1.4"/>
<rect x="837.75" y="352.64" width="30.10" height="14.55" rx="1.4"/>
<rect x="872.15" y="352.64" width="30.60" height="14.55" rx="1.4"/>
<rect x="909.00" y="352.64" width="30.10" height="14.55" rx="1.4"/>
<rect x="943.40" y="352.64" width="30.60" height="14.55" rx="1.4"/>
<rect x="552.75" y="372.11" width="30.10" height="14.55" rx="1.4"/>
<rect x="587.15" y="372.11" width="30.60" height="14.55" rx="1.4"/>
<rect x="624.00" y="372.11" width="30.10" height="14.55" rx="1.4"/>
<rect x="658.40" y="372.11" width="30.60" height="14.55" rx="1.4"/>
<rect x="695.25" y="372.11" width="30.10" height="14.55" rx="1.4"/>
<rect x="729.65" y="372.11" width="30.60" height="14.55" rx="1.4"/>
<rect x="766.50" y="372.11" width="30.10" height="14.55" rx="1.4"/>
<rect x="800.90" y="372.11" width="30.60" height="14.55" rx="1.4"/>
<rect x="837.75" y="372.11" width="30.10" height="14.55" rx="1.4"/>
<rect x="872.15" y="372.11" width="30.60" height="14.55" rx="1.4"/>
<rect x="909.00" y="372.11" width="30.10" height="14.55" rx="1.4"/>
<rect x="943.40" y="372.11" width="30.60" height="14.55" rx="1.4"/>
<rect x="658.40" y="391.58" width="30.60" height="14.55" rx="1.4"/>
<rect x="695.25" y="391.58" width="30.10" height="14.55" rx="1.4"/>
<rect x="729.65" y="391.58" width="30.60" height="14.55" rx="1.4"/>
<rect x="766.50" y="391.58" width="30.10" height="14.55" rx="1.4"/>
<rect x="800.90" y="391.58" width="30.60" height="14.55" rx="1.4"/>
<rect x="837.75" y="391.58" width="30.10" height="14.55" rx="1.4"/>
<rect x="872.15" y="391.58" width="30.60" height="14.55" rx="1.4"/>
<rect x="909.00" y="391.58" width="30.10" height="14.55" rx="1.4"/>
<rect x="943.40" y="391.58" width="30.60" height="14.55" rx="1.4"/>
<rect x="624.00" y="411.04" width="30.10" height="14.55" rx="1.4"/>
<rect x="658.40" y="411.04" width="30.60" height="14.55" rx="1.4"/>
<rect x="695.25" y="411.04" width="30.10" height="14.55" rx="1.4"/>
<rect x="729.65" y="411.04" width="30.60" height="14.55" rx="1.4"/>
<rect x="766.50" y="411.04" width="30.10" height="14.55" rx="1.4"/>
<rect x="800.90" y="411.04" width="30.60" height="14.55" rx="1.4"/>
<rect x="837.75" y="411.04" width="30.10" height="14.55" rx="1.4"/>
<rect x="872.15" y="411.04" width="30.60" height="14.55" rx="1.4"/>
<rect x="909.00" y="411.04" width="30.10" height="14.55" rx="1.4"/>
<rect x="943.40" y="411.04" width="30.60" height="14.55" rx="1.4"/>
<rect x="624.00" y="430.50" width="30.10" height="14.55" rx="1.4"/>
<rect x="658.40" y="430.50" width="30.60" height="14.55" rx="1.4"/>
<rect x="695.25" y="430.50" width="30.10" height="14.55" rx="1.4"/>
<rect x="729.65" y="430.50" width="30.60" height="14.55" rx="1.4"/>
<rect x="766.50" y="430.50" width="30.10" height="14.55" rx="1.4"/>
<rect x="800.90" y="430.50" width="30.60" height="14.55" rx="1.4"/>
<rect x="837.75" y="430.50" width="30.10" height="14.55" rx="1.4"/>
<rect x="872.15" y="430.50" width="30.60" height="14.55" rx="1.4"/>
<rect x="909.00" y="430.50" width="30.10" height="14.55" rx="1.4"/>
<rect x="943.40" y="430.50" width="30.60" height="14.55" rx="1.4"/>
<rect x="624.00" y="449.97" width="30.10" height="14.55" rx="1.4"/>
<rect x="658.40" y="449.97" width="30.60" height="14.55" rx="1.4"/>
<rect x="695.25" y="449.97" width="30.10" height="14.55" rx="1.4"/>
<rect x="729.65" y="449.97" width="30.60" height="14.55" rx="1.4"/>
<rect x="766.50" y="449.97" width="30.10" height="14.55" rx="1.4"/>
<rect x="800.90" y="449.97" width="30.60" height="14.55" rx="1.4"/>
<rect x="837.75" y="449.97" width="30.10" height="14.55" rx="1.4"/>
<rect x="872.15" y="449.97" width="30.60" height="14.55" rx="1.4"/>
<rect x="909.00" y="449.97" width="30.10" height="14.55" rx="1.4"/>
<rect x="943.40" y="449.97" width="30.60" height="14.55" rx="1.4"/>
<rect x="624.00" y="469.43" width="30.10" height="14.55" rx="1.4"/>
<rect x="658.40" y="469.43" width="30.60" height="14.55" rx="1.4"/>
<rect x="695.25" y="469.43" width="30.10" height="14.55" rx="1.4"/>
<rect x="729.65" y="469.43" width="30.60" height="14.55" rx="1.4"/>
<rect x="766.50" y="469.43" width="30.10" height="14.55" rx="1.4"/>
<rect x="800.90" y="469.43" width="30.60" height="14.55" rx="1.4"/>
<rect x="837.75" y="469.43" width="30.10" height="14.55" rx="1.4"/>
<rect x="872.15" y="469.43" width="30.60" height="14.55" rx="1.4"/>
<rect x="909.00" y="469.43" width="30.10" height="14.55" rx="1.4"/>
<rect x="943.40" y="469.43" width="30.60" height="14.55" rx="1.4"/>
<rect x="552.75" y="488.90" width="30.10" height="14.55" rx="1.4"/>
<rect x="587.15" y="488.90" width="30.60" height="14.55" rx="1.4"/>
<rect x="624.00" y="488.90" width="30.10" height="14.55" rx="1.4"/>
<rect x="658.40" y="488.90" width="30.60" height="14.55" rx="1.4"/>
<rect x="695.25" y="488.90" width="30.10" height="14.55" rx="1.4"/>
<rect x="729.65" y="488.90" width="30.60" height="14.55" rx="1.4"/>
<rect x="766.50" y="488.90" width="30.10" height="14.55" rx="1.4"/>
<rect x="800.90" y="488.90" width="30.60" height="14.55" rx="1.4"/>
<rect x="837.75" y="488.90" width="30.10" height="14.55" rx="1.4"/>
<rect x="872.15" y="488.90" width="30.60" height="14.55" rx="1.4"/>
<rect x="909.00" y="488.90" width="30.10" height="14.55" rx="1.4"/>
<rect x="943.40" y="488.90" width="30.60" height="14.55" rx="1.4"/>
<rect x="552.75" y="508.37" width="30.10" height="14.55" rx="1.4"/>
<rect x="587.15" y="508.37" width="30.60" height="14.55" rx="1.4"/>
<rect x="624.00" y="508.37" width="30.10" height="14.55" rx="1.4"/>
<rect x="658.40" y="508.37" width="30.60" height="14.55" rx="1.4"/>
<rect x="695.25" y="508.37" width="30.10" height="14.55" rx="1.4"/>
<rect x="729.65" y="508.37" width="30.60" height="14.55" rx="1.4"/>
<rect x="766.50" y="508.37" width="30.10" height="14.55" rx="1.4"/>
<rect x="800.90" y="508.37" width="30.60" height="14.55" rx="1.4"/>
<rect x="837.75" y="508.37" width="30.10" height="14.55" rx="1.4"/>
<rect x="872.15" y="508.37" width="30.60" height="14.55" rx="1.4"/>
<rect x="909.00" y="508.37" width="30.10" height="14.55" rx="1.4"/>
<rect x="943.40" y="508.37" width="30.60" height="14.55" rx="1.4"/>
<rect x="552.75" y="527.83" width="30.10" height="14.55" rx="1.4"/>
<rect x="587.15" y="527.83" width="30.60" height="14.55" rx="1.4"/>
<rect x="624.00" y="527.83" width="30.10" height="14.55" rx="1.4"/>
<rect x="658.40" y="527.83" width="30.60" height="14.55" rx="1.4"/>
<rect x="695.25" y="527.83" width="30.10" height="14.55" rx="1.4"/>
<rect x="729.65" y="527.83" width="30.60" height="14.55" rx="1.4"/>
<rect x="766.50" y="527.83" width="30.10" height="14.55" rx="1.4"/>
<rect x="800.90" y="527.83" width="30.60" height="14.55" rx="1.4"/>
<rect x="837.75" y="527.83" width="30.10" height="14.55" rx="1.4"/>
<rect x="872.15" y="527.83" width="30.60" height="14.55" rx="1.4"/>
<rect x="909.00" y="527.83" width="30.10" height="14.55" rx="1.4"/>
<rect x="943.40" y="527.83" width="30.60" height="14.55" rx="1.4"/>
<rect x="552.75" y="547.29" width="30.10" height="14.55" rx="1.4"/>
<rect x="587.15" y="547.29" width="30.60" height="14.55" rx="1.4"/>
<rect x="624.00" y="547.29" width="30.10" height="14.55" rx="1.4"/>
<rect x="658.40" y="547.29" width="30.60" height="14.55" rx="1.4"/>
<rect x="695.25" y="547.29" width="30.10" height="14.55" rx="1.4"/>
<rect x="729.65" y="547.29" width="30.60" height="14.55" rx="1.4"/>
<rect x="766.50" y="547.29" width="30.10" height="14.55" rx="1.4"/>
<rect x="800.90" y="547.29" width="30.60" height="14.55" rx="1.4"/>
<rect x="837.75" y="547.29" width="30.10" height="14.55" rx="1.4"/>
<rect x="872.15" y="547.29" width="30.60" height="14.55" rx="1.4"/>
<rect x="909.00" y="547.29" width="30.10" height="14.55" rx="1.4"/>
<rect x="943.40" y="547.29" width="30.60" height="14.55" rx="1.4"/>
</g>
<g fill="#595959">
<rect x="800.90" y="119.06" width="30.60" height="14.55" rx="1.4"/>
<rect x="800.90" y="138.53" width="30.60" height="14.55" rx="1.4"/>
<rect x="800.90" y="158.00" width="30.60" height="14.55" rx="1.4"/>
<rect x="800.90" y="177.46" width="30.60" height="14.55" rx="1.4"/>
<rect x="800.90" y="196.93" width="30.60" height="14.55" rx="1.4"/>
<rect x="909.00" y="255.32" width="30.10" height="14.55" rx="1.4"/>
<rect x="943.40" y="255.32" width="30.60" height="14.55" rx="1.4"/>
<rect x="909.00" y="274.78" width="30.10" height="14.55" rx="1.4"/>
<rect x="943.40" y="274.78" width="30.60" height="14.55" rx="1.4"/>
<rect x="909.00" y="294.25" width="30.10" height="14.55" rx="1.4"/>
<rect x="943.40" y="294.25" width="30.60" height="14.55" rx="1.4"/>
<rect x="909.00" y="313.72" width="30.10" height="14.55" rx="1.4"/>
<rect x="943.40" y="313.72" width="30.60" height="14.55" rx="1.4"/>
<rect x="872.15" y="333.18" width="30.60" height="14.55" rx="1.4"/>
<rect x="909.00" y="333.18" width="30.10" height="14.55" rx="1.4"/>
<rect x="943.40" y="333.18" width="30.60" height="14.55" rx="1.4"/>
<rect x="552.75" y="391.58" width="30.10" height="14.55" rx="1.4"/>
<rect x="587.15" y="391.58" width="30.60" height="14.55" rx="1.4"/>
<rect x="624.00" y="391.58" width="30.10" height="14.55" rx="1.4"/>
<rect x="552.75" y="411.04" width="30.10" height="14.55" rx="1.4"/>
<rect x="587.15" y="411.04" width="30.60" height="14.55" rx="1.4"/>
<rect x="552.75" y="430.50" width="30.10" height="14.55" rx="1.4"/>
<rect x="587.15" y="430.50" width="30.60" height="14.55" rx="1.4"/>
<rect x="552.75" y="449.97" width="30.10" height="14.55" rx="1.4"/>
<rect x="587.15" y="449.97" width="30.60" height="14.55" rx="1.4"/>
<rect x="552.75" y="469.43" width="30.10" height="14.55" rx="1.4"/>
<rect x="587.15" y="469.43" width="30.60" height="14.55" rx="1.4"/>
</g>
<path d="M10.60 109.88H54.00M10.60 148.81H54.00M10.60 187.73H54.00" stroke="#1a1a1a" stroke-width="0.65" fill="none"/>
<path d="M10.60 421.31H54.00M10.60 460.25H54.00M10.60 538.11H54.00" stroke="#1a1a1a" stroke-width="0.65" opacity="0.5" fill="none"/>
<path d="M10.60 207.20H54.00M10.60 246.13H54.00M10.60 285.06H54.00M10.60 323.99H54.00M10.60 362.92H54.00M10.60 401.85H54.00M10.60 440.78H54.00M10.60 479.71H54.00M10.60 518.64H54.00M10.60 557.57H54.00" stroke="#B08468" stroke-width="0.55" fill="none"/>
<path d="M501.75 109.88H545.15M501.75 148.81H545.15M501.75 187.73H545.15M501.75 421.31H545.15M501.75 460.25H545.15" stroke="#1a1a1a" stroke-width="0.65" fill="none"/>
<path d="M501.75 343.45H545.15M501.75 382.38H545.15" stroke="#1a1a1a" stroke-width="0.65" opacity="0.5" fill="none"/>
<path d="M501.75 207.20H545.15M501.75 246.13H545.15M501.75 285.06H545.15M501.75 323.99H545.15M501.75 362.92H545.15M501.75 401.85H545.15M501.75 440.78H545.15M501.75 479.71H545.15M501.75 518.64H545.15M501.75 557.57H545.15" stroke="#B08468" stroke-width="0.55" fill="none"/>
<path d="M501.75 129.34H545.15" stroke="#B08468" stroke-width="0.55" opacity="0.5" fill="none"/>
<rect fill="#5577B5" opacity="0.55" x="491.1" y="72" width="0.9" height="519"/>
<path d="M6.75 583.9L0 591M484.85 583.9L491.5 591M497.9 583.9L491.5 591M976 583.9L980 588" stroke="#5577B5" stroke-width="0.8" opacity="0.4" fill="none"/>
</svg>
<div id="tx">
<div class="d" style="left:173.15px;top:32.90px;">2025-11-04</div>
<div class="t u" style="left:10.80px;top:101.97px;">00:00-00:30</div>
<div class="t o" style="left:10.80px;top:121.44px;">00:30-01:00</div>
<div class="t u" style="left:10.80px;top:140.91px;">01:00-01:30</div>
<div class="t o" style="left:10.80px;top:160.37px;">01:30-02:00</div>
<div class="t u" style="left:10.80px;top:179.83px;">02:00-02:30</div>
<div class="t o u" style="left:10.80px;top:199.30px;">02:30-03:00</div>
<div class="t" style="left:10.80px;top:218.76px;">03:00-03:30</div>
<div class="t o u" style="left:10.80px;top:238.23px;">03:30-04:00</div>
<div class="t" style="left:10.80px;top:257.69px;">04:00-04:30</div>
<div class="t o u" style="left:10.80px;top:277.16px;">04:30-05:00</div>
<div class="t" style="left:10.80px;top:296.62px;">05:00-05:30</div>
<div class="t o u" style="left:10.80px;top:316.09px;">05:30-06:00</div>
<div class="t" style="left:10.80px;top:335.55px;">06:00-06:30</div>
<div class="t o u" style="left:10.80px;top:355.02px;">06:30-07:00</div>
<div class="t" style="left:10.80px;top:374.49px;">07:00-07:30</div>
<div class="t o u" style="left:10.80px;top:393.95px;">07:30-08:00</div>
<div class="t u" style="left:10.80px;top:413.41px;">08:00-08:30</div>
<div class="t o u" style="left:10.80px;top:432.88px;">08:30-09:00</div>
<div class="t u" style="left:10.80px;top:452.35px;">09:00-09:30</div>
<div class="t o u" style="left:10.80px;top:471.81px;">09:30-10:00</div>
<div class="t" style="left:10.80px;top:491.27px;">10:00-10:30</div>
<div class="t o u" style="left:10.80px;top:510.74px;">10:30-11:00</div>
<div class="t u" style="left:10.80px;top:530.21px;">11:00-11:30</div>
<div class="t o u" style="left:10.80px;top:549.67px;">11:30-12:00</div>
<div class="h" style="left:56.70px;top:77.60px;"><b>1.1</b><i>ЧЕРГА</i></div>
<div class="h b" style="left:56.70px;top:564.30px;"><b>1.1</b><i>ЧЕРГА</i></div>
<div class="h" style="left:91.10px;top:77.60px;"><b>1.2</b><i>ЧЕРГА</i></div>
<div class="h b" style="left:91.10px;top:564.30px;"><b>1.2</b><i>ЧЕРГА</i></div>
<div class="h" style="left:127.95px;top:77.60px;"><b>2.1</b><i>ЧЕРГА</i></div>
<div class="h b" style="left:127.95px;top:564.30px;"><b>2.1</b><i>ЧЕРГА</i></div>
<div class="h" style="left:162.35px;top:77.60px;"><b>2.2</b><i>ЧЕРГА</i></div>
<div class="h b" style="left:162.35px;top:564.30px;"><b>2.2</b><i>ЧЕРГА</i></div>
<div class="h" style="left:199.20px;top:77.60px;"><b>3.1</b><i>ЧЕРГА</i></div>
<div class="h b" style="left:199.20px;top:564.30px;"><b>3.1</b><i>ЧЕРГА</i></div>
<div class="h" style="left:233.60px;top:77.60px;"><b>3.2</b><i>ЧЕРГА</i></div>
<div class="h b" style="left:233.60px;top:564.30px;"><b>3.2</b><i>ЧЕРГА</i></div>
<div class="h" style="left:270.45px;top:77.60px;"><b>4.1</b><i>ЧЕРГА</i></div>
<div class="h b" style="left:270.45px;top:564.30px;"><b>4.1</b><i>ЧЕРГА</i></div>
<div class="h" style="left:304.85px;top:77.60px;"><b>4.2</b><i>ЧЕРГА</i></div>
<div class="h b" style="left:304.85px;top:564.30px;"><b>4.2</b><i>ЧЕРГА</i></div>
<div class="h" style="left:341.70px;top:77.60px;"><b>5.1</b><i>ЧЕРГА</i></div>
<div class="h b" style="left:341.70px;top:564.30px;"><b>5.1</b><i>ЧЕРГА</i></div>
<div class="h" style="left:376.10px;top:77.60px;"><b>5.2</b><i>ЧЕРГА</i></div>
<div class="h b" style="left:376.10px;top:564.30px;"><b>5.2</b><i>ЧЕРГА</i></div>
<div class="h" style="left:412.95px;top:77.60px;"><b>6.1</b><i>ЧЕРГА</i></div>
<div class="h b" style="left:412.95px;top:564.30px;"><b>6.1</b><i>ЧЕРГА</i></div>
<div class="h" style="left:447.35px;top:77.60px;"><b>6.2</b><i>ЧЕРГА</i></div>
<div class="h b" style="left:447.35px;top:564.30px;"><b>6.2</b><i>ЧЕРГА</i></div>
<div class="d" style="left:664.55px;top:32.90px;">2025-11-04</div>
<div class="t u" style="left:501.95px;top:101.97px;">12:00-12:30</div>
<div class="t o u" style="left:501.95px;top:121.44px;">12:30-13:00</div>
<div class="t u" style="left:501.95px;top:140.91px;">13:00-13:30</div>
<div class="t o" style="left:501.95px;top:160.37px;">13:30-14:00</div>
<div class="t u" style="left:501.95px;top:179.83px;">14:00-14:30</div>
<div class="t o u" style="left:501.95px;top:199.30px;">14:30-15:00</div>
<div class="t" style="left:501.95px;top:218.76px;">15:00-15:30</div>
<div class="t o u" style="left:501.95px;top:238.23px;">15:30-16:00</div>
<div class="t" style="left:501.95px;top:257.69px;">16:00-16:30</div>
<div class="t o u" style="left:501.95px;top:277.16px;">16:30-17:00</div>
<div class="t" style="left:501.95px;top:296.62px;">17:00-17:30</div>
<div class="t o u" style="left:501.95px;top:316.09px;">17:30-18:00</div>
<div class="t u" style="left:501.95px;top:335.55px;">18:00-18:30</div>
<div class="t o u" style="left:501.95px;top:355.02px;">18:30-19:00</div>
<div class="t u" style="left:501.95px;top:374.49px;">19:00-19:30</div>
<div class="t o u" style="left:501.95px;top:393.95px;">19:30-20:00</div>
<div class="t u" style="left:501.95px;top:413.41px;">20:00-20:30</div>
<div class="t o u" style="left:501.95px;top:432.88px;">20:30-21:00</div>
<div class="t u" style="left:501.95px;top:452.35px;">21:00-21:30</div>
<div class="t o u" style="left:501.95px;top:471.81px;">21:30-22:00</div>
<div class="t" style="left:501.95px;top:491.27px;">22:00-22:30</div>
<div class="t o u" style="left:501.95px;top:510.74px;">22:30-23:00</div>
<div class="t" style="left:501.95px;top:530.21px;">23:00-23:30</div>
<div class="t o u" style="left:501.95px;top:549.67px;">23:30-00:00</div>
<div class="h" style="left:547.85px;top:77.60px;"><b>1.1</b><i>ЧЕРГА</i></div>
<div class="h b" style="left:547.85px;top:564.30px;"><b>1.1</b><i>ЧЕРГА</i></div>
<div class="h" style="left:582.25px;top:77.60px;"><b>1.2</b><i>ЧЕРГА</i></div>
<div class="h b" style="left:582.25px;top:564.30px;"><b>1.2</b><i>ЧЕРГА</i></div>
<div class="h" style="left:619.10px;top:77.60px;"><b>2.1</b><i>ЧЕРГА</i></div>
<div class="h b" style="left:619.10px;top:564.30px;"><b>2.1</b><i>ЧЕРГА</i></div>
<div class="h" style="left:653.50px;top:77.60px;"><b>2.2</b><i>ЧЕРГА</i></div>
<div class="h b" style="left:653.50px;top:564.30px;"><b>2.2</b><i>ЧЕРГА</i></div>
<div class="h" style="left:690.35px;top:77.60px;"><b>3.1</b><i>ЧЕРГА</i></div>
<div class="h b" style="left:690.35px;top:564.30px;"><b>3.1</b><i>ЧЕРГА</i></div>
<div class="h" style="left:724.75px;top:77.60px;"><b>3.2</b><i>ЧЕРГА</i></div>
<div class="h b" style="left:724.75px;top:564.30px;"><b>3.2</b><i>ЧЕРГА</i></div>
<div class="h" style="left:761.60px;top:77.60px;"><b>4.1</b><i>ЧЕРГА</i></div>
<div class="h b" style="left:761.60px;top:564.30px;"><b>4.1</b><i>ЧЕРГА</i></div>
<div class="h" style="left:796.00px;top:77.60px;"><b>4.2</b><i>ЧЕРГА</i></div>
<div class="h b" style="left:796.00px;top:564.30px;"><b>4.2</b><i>ЧЕРГА</i></div>
<div class="h" style="left:832.85px;top:77.60px;"><b>5.1</b><i>ЧЕРГА</i></div>
<div class="h b" style="left:832.85px;top:564.30px;"><b>5.1</b><i>ЧЕРГА</i></div>
<div class="h" style="left:867.25px;top:77.60px;"><b>5.2</b><i>ЧЕРГА</i></div>
<div class="h b" style="left:867.25px;top:564.30px;"><b>5.2</b><i>ЧЕРГА</i></div>
<div class="h" style="left:904.10px;top:77.60px;"><b>6.1</b><i>ЧЕРГА</i></div>
<div class="h b" style="left:904.10px;top:564.30px;"><b>6.1</b><i>ЧЕРГА</i></div>
<div class="h" style="left:938.50px;top:77.60px;"><b>6.2</b><i>ЧЕРГА</i></div>
<div class="h b" style="left:938.50px;top:564.30px;"><b>6.2</b><i>ЧЕРГА</i></div>
<div class="f" style="left:342.30px;top:590.00px;">ГПВ АТ «СУМИОБЛЕНЕРГО»</div>
</div>
</body>
</html>
